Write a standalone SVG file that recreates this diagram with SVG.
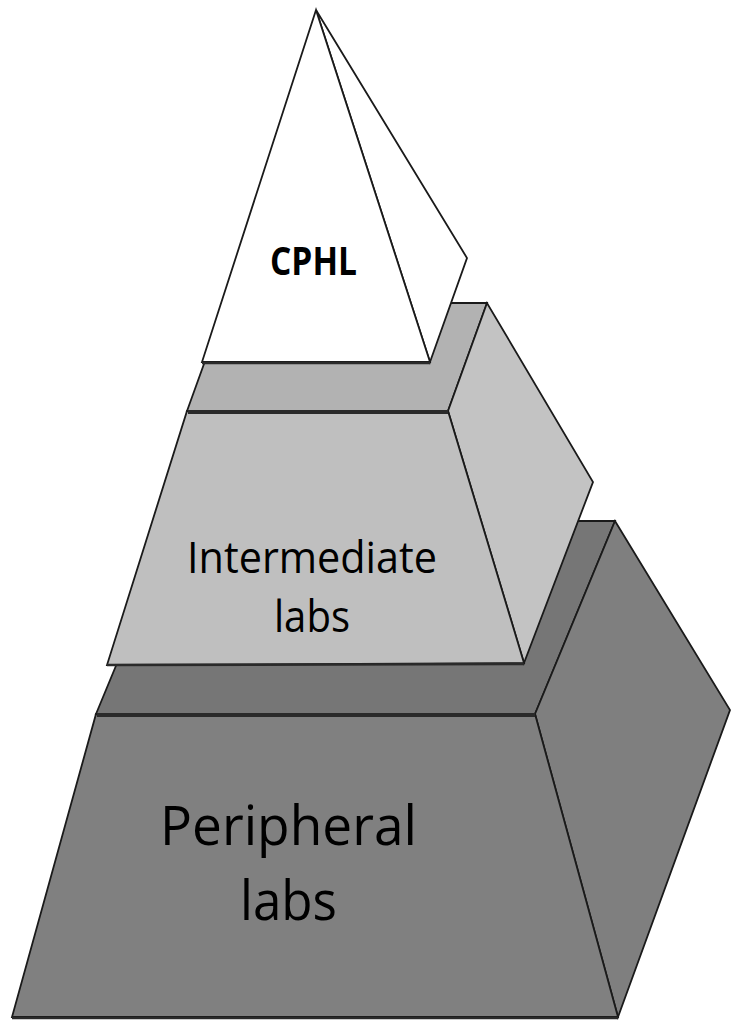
<svg xmlns="http://www.w3.org/2000/svg" width="731" height="1023" viewBox="0 0 731 1023">
<style>
.e{stroke:#1a1a1a;stroke-width:1.8;stroke-linejoin:miter}
.rim{stroke:#2a2a2a;stroke-width:4;fill:none}
.t{font-family:"Open Sans","Noto Sans","Liberation Sans",sans-serif;fill:#000;text-anchor:middle}
</style>
<rect width="731" height="1023" fill="#ffffff"/>
<g id="peripheral">
<polygon class="e" points="96,714 535,714 615,521 176,521" fill="#767676"/>
<polygon class="e" points="535,714 615,521 730,710 618,1017" fill="#7f7f7f"/>
<polygon class="e" points="96,714 535,714 618,1017 12,1017" fill="#808080"/>
<line class="rim" x1="97" y1="715" x2="535" y2="715"/>
<line class="rim" x1="12" y1="1018" x2="618" y2="1018" style="stroke-width:2.5"/>
<text class="t" x="288.5" y="845" font-size="54" textLength="257" lengthAdjust="spacingAndGlyphs">Peripheral</text>
<text class="t" x="288.5" y="920" font-size="54" textLength="97" lengthAdjust="spacingAndGlyphs">labs</text>
</g>
<g id="intermediate">
<polygon class="e" points="187,411 448,411 487,303 226,303" fill="#b2b2b2"/>
<polygon class="e" points="448,411 487,303 593,482 524,663" fill="#c3c3c3"/>
<polygon class="e" points="187,411 448,411 524,663 107,665" fill="#bfbfbf"/>
<line class="rim" x1="188" y1="412" x2="448" y2="412"/>
<line class="rim" x1="107" y1="665" x2="524" y2="664" style="stroke-width:2.5"/>
<text class="t" x="312" y="573" font-size="43" textLength="250" lengthAdjust="spacingAndGlyphs">Intermediate</text>
<text class="t" x="312" y="632" font-size="43" textLength="76" lengthAdjust="spacingAndGlyphs">labs</text>
</g>
<g id="cphl">
<polygon class="e" points="316,10 467,258 430,362" fill="#ffffff"/>
<polygon class="e" points="316,10 202,362 430,362" fill="#ffffff"/>
<line class="rim" x1="202" y1="363" x2="430" y2="363" style="stroke-width:2.5"/>
<text class="t" x="313.5" y="275" font-size="39" font-weight="bold" textLength="87" lengthAdjust="spacingAndGlyphs">CPHL</text>
</g>
<g id="connectors"/>
</svg>
